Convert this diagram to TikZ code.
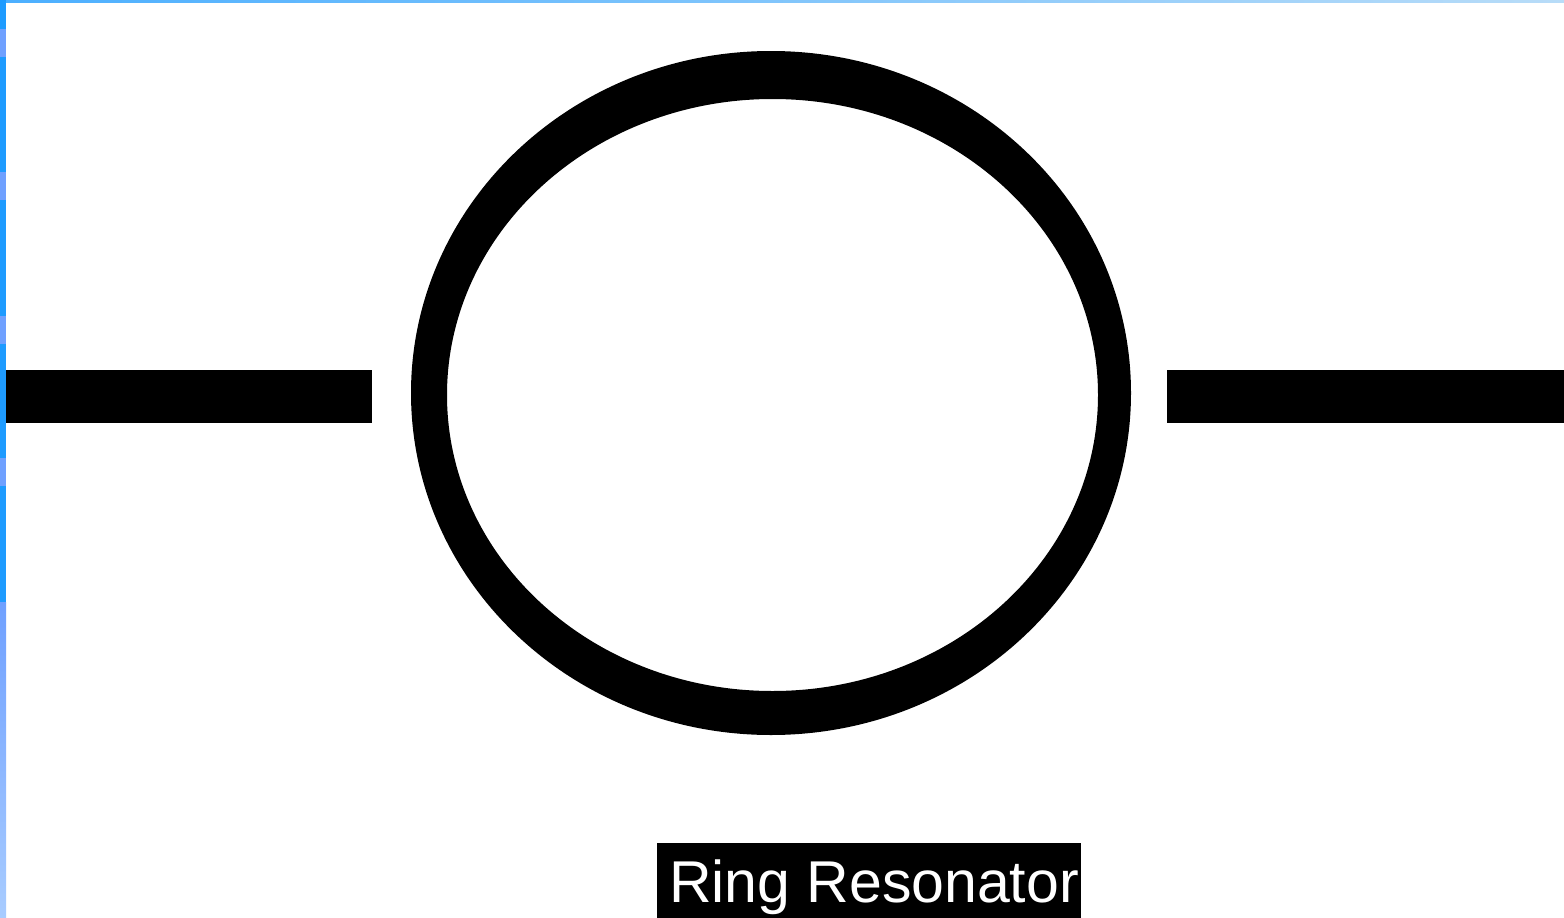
\documentclass[tikz,border=0pt]{standalone}
\usepackage{fontspec}
\setmainfont{Liberation Sans}
\begin{document}
\begin{tikzpicture}[x=1pt,y=-1pt,
  bar/.style={fill=black},
  labelbox/.style={fill=black,text=white,inner sep=0pt,minimum width=424pt,minimum height=75pt,
    text height=43pt,text depth=0pt,font=\fontsize{59}{62}\selectfont}]
\definecolor{edgeblue}{HTML}{1E9BFF}
\definecolor{edgelight}{HTML}{6FA0FF}
\definecolor{edgepale}{HTML}{A8CCFF}
\definecolor{topright}{HTML}{B8DCF8}
\useasboundingbox (0,0) rectangle (1564,918);
\fill[white] (0,0) rectangle (1564,918);
% window edges
\shade[left color=edgeblue!80!white, right color=topright] (0,0) rectangle (1564,2.5);
\fill[edgeblue] (0,0) rectangle (6,602);
\foreach \a in {29,172,316,458} \fill[edgelight] (0,\a) rectangle (6,\a+28);
\shade[top color=edgelight, bottom color=edgepale] (0,602) rectangle (6,918);
% waveguides
\fill[bar] (6,370) rectangle (372,423);
\fill[bar] (1167,370) rectangle (1564,423);
% ring
\fill[black,even odd rule] (771,393) ellipse [x radius=360, y radius=342]
  (772.5,395) ellipse [x radius=325.5, y radius=296];
\node[labelbox] (label) at (869,880.5) {\hspace*{10pt}Ring Resonator};
\end{tikzpicture}
\end{document}
